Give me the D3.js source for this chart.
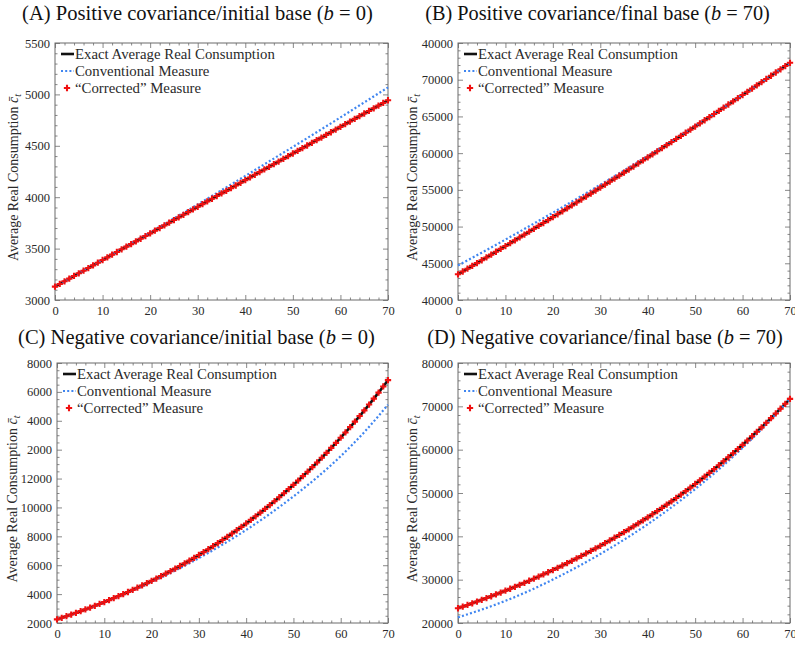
<!DOCTYPE html>
<html>
<head>
<meta charset="utf-8">
<script src="https://cdn.jsdelivr.net/npm/d3@7"></script>
<style>
  body { margin: 0; background: #fff; }
  svg { display: block; }
</style>
</head>
<body>
<svg id="chart" width="795" height="647"></svg>
<script>
// ---- data ----
const years = d3.range(0, 71);          // t = 0..70, one marker per year
const convYears = d3.range(0, 71, 5);   // conventional measure sampled every 5 years

// (A) positive covariance / initial base
const exactA = [3130,3156,3182,3208,3234,3260,3285,3311,3337,3363,3389,3415,3441,3467,3493,3519,3544,3570,3596,3622,
  3648,3674,3700,3726,3752,3778,3803,3829,3855,3881,3907,3933,3959,3985,4011,4037,4062,4088,4114,4140,
  4166,4192,4218,4244,4270,4296,4321,4347,4373,4399,4425,4451,4477,4503,4529,4555,4580,4606,4632,4658,
  4684,4710,4736,4762,4788,4814,4839,4865,4891,4917,4943];
const convA = [3130,3261,3392,3525,3658,3794,3930,4068,4207,4348,4489,4632,4776,4922,5068];

// (B) positive covariance / final base
const exactB = [43500,43880,44262,44644,45027,45411,45796,46182,46569,46956,47345,47734,48125,48516,48908,49301,49695,50090,50486,50882,
  51280,51678,52078,52478,52879,53281,53684,54088,54493,54898,55305,55712,56121,56530,56940,57351,57763,58176,58590,59004,
  59420,59836,60254,60672,61091,61511,61932,62354,62777,63200,63625,64050,64477,64904,65332,65761,66191,66622,67054,67486,
  67920,68354,68790,69226,69663,70101,70540,70980,71421,71862,72305];
const convB = [44700,46446,48227,50042,51892,53777,55697,57651,59640,61664,63723,65816,67944,70107,72305];

// (C) negative covariance / initial base
const exactC = [2250,2360,2471,2585,2702,2820,2941,3065,3191,3319,3450,3584,3720,3860,4002,4147,4294,4445,4599,4756,
  4916,5079,5246,5416,5590,5767,5947,6131,6319,6511,6707,6906,7110,7317,7529,7745,7966,8191,8420,8655,
  8893,9137,9386,9639,9898,10162,10432,10706,10987,11273,11564,11862,12166,12476,12792,13114,13443,13779,14121,14471,
  14827,15190,15561,15940,16326,16720,17122,17531,17950,18376,18812];
const convC = [2250,2810,3425,4097,4836,5627,6487,7425,8443,9552,10764,12084,13547,15220,17112];

// (D) negative covariance / final base
const exactD = [23400,23777,24161,24551,24947,25349,25758,26173,26595,27024,27460,27903,28353,28810,29275,29747,30227,30715,31210,31713,
  32225,32745,33273,33809,34355,34909,35472,36044,36625,37216,37816,38426,39046,39676,40315,40966,41626,42298,42980,43673,
  44378,45093,45821,46560,47311,48074,48849,49637,50438,51251,52078,52918,53771,54638,55520,56415,57325,58250,59189,60144,
  61114,62099,63101,64119,65153,66204,67271,68356,69459,70579,71718];
const convD = [21300,23099,25110,27427,30025,32859,35916,39216,42798,46684,50898,55465,60434,65844,71718];

// tick values and the labels exactly as printed in the figure
const xTicks = [0, 10, 20, 30, 40, 50, 60, 70];
const yTicksA = [3000, 3500, 4000, 4500, 5000, 5500];
const yLabelsA = ["3000", "3500", "4000", "4500", "5000", "5500"];
const yTicksB = [40000, 45000, 50000, 55000, 60000, 65000, 70000, 75000];
const yLabelsB = ["40000", "45000", "50000", "55000", "60000", "65000", "70000", "40000"];
const yTicksC = [2000, 4000, 6000, 8000, 10000, 12000, 14000, 16000, 18000, 20000];
const yLabelsC = ["2000", "4000", "6000", "8000", "10000", "12000", "2000", "4000", "6000", "8000"];
const yTicksD = [20000, 30000, 40000, 50000, 60000, 70000, 80000];
const yLabelsD = ["20000", "30000", "40000", "50000", "60000", "70000", "80000"];

const legendLabels = ["Exact Average Real Consumption", "Conventional Measure", "\u201CCorrected\u201D Measure"];

// ---- styling ----
const serif = "'Liberation Serif', 'Times New Roman', serif";
const axisColor = "#6a6a6a";
const textColor = "#2a2a2a";
const exactColor = "#111";
const convColor = "#3f85f0";
const corrColor = "#f01010";

const panels = [
  { tag: "A", head: "Positive covariance/initial base (", bval: "0", left: 55, right: 388, top: 43, bottom: 300,
    yDomain: [3000, 5500], yTicks: yTicksA, yLabels: yLabelsA, yMinor: 100,
    exact: exactA, conv: convA, titleX: 197.5, titleY: 20, titleW: 351, labelX: 13 },
  { tag: "B", head: "Positive covariance/final base (", bval: "70", left: 458, right: 790, top: 43, bottom: 300,
    yDomain: [40000, 75000], yTicks: yTicksB, yLabels: yLabelsB, yMinor: 1000,
    exact: exactB, conv: convB, titleX: 597.5, titleY: 20, titleW: 345, labelX: 412 },
  { tag: "C", head: "Negative covariance/initial base (", bval: "0", left: 57, right: 388, top: 363, bottom: 623,
    yDomain: [2000, 20000], yTicks: yTicksC, yLabels: yLabelsC, yMinor: 500,
    exact: exactC, conv: convC, titleX: 196.5, titleY: 344, titleW: 357, labelX: 12 },
  { tag: "D", head: "Negative covariance/final base (", bval: "70", left: 458, right: 790, top: 363, bottom: 623,
    yDomain: [20000, 80000], yTicks: yTicksD, yLabels: yLabelsD, yMinor: 2000,
    exact: exactD, conv: convD, titleX: 605, titleY: 344, titleW: 356, labelX: 412 }
];

const svg = d3.select("#chart").attr("font-family", serif);
const marker = d3.symbol().type(d3.symbolCross).size(22);

function styleAxis(a) {
  a.attr("font-family", serif).attr("font-size", 12.5);
  a.select(".domain").remove();
  a.selectAll("line").attr("stroke", axisColor).attr("stroke-width", 0.8);
  a.selectAll("text").attr("fill", textColor);
}

panels.forEach(p => {
  const x = d3.scaleLinear().domain([0, 70]).range([p.left, p.right]);
  const y = d3.scaleLinear().domain(p.yDomain).range([p.bottom, p.top]);
  const g = svg.append("g");

  const xMinor = d3.range(0, 71, 2).filter(v => v % 10 !== 0);
  const yMinor = d3.range(p.yDomain[0], p.yDomain[1] + 1, p.yMinor).filter(v => !p.yTicks.includes(v));
  const labelOf = d3.scaleOrdinal().domain(p.yTicks).range(p.yLabels);

  // bottom axis with labels
  styleAxis(g.append("g").attr("transform", `translate(0,${p.bottom})`)
    .call(d3.axisBottom(x).tickValues(xTicks).tickSizeInner(-5).tickSizeOuter(0).tickPadding(6).tickFormat(d3.format("d"))));
  styleAxis(g.append("g").attr("transform", `translate(0,${p.bottom})`)
    .call(d3.axisBottom(x).tickValues(xMinor).tickSizeInner(-2.5).tickSizeOuter(0).tickFormat("")));
  // top axis, ticks only
  styleAxis(g.append("g").attr("transform", `translate(0,${p.top})`)
    .call(d3.axisTop(x).tickValues(xTicks).tickSizeInner(-5).tickSizeOuter(0).tickFormat("")));
  styleAxis(g.append("g").attr("transform", `translate(0,${p.top})`)
    .call(d3.axisTop(x).tickValues(xMinor).tickSizeInner(-2.5).tickSizeOuter(0).tickFormat("")));
  // left axis with labels
  styleAxis(g.append("g").attr("transform", `translate(${p.left},0)`)
    .call(d3.axisLeft(y).tickValues(p.yTicks).tickSizeInner(-5).tickSizeOuter(0).tickPadding(5).tickFormat(d => labelOf(d))));
  styleAxis(g.append("g").attr("transform", `translate(${p.left},0)`)
    .call(d3.axisLeft(y).tickValues(yMinor).tickSizeInner(-2.5).tickSizeOuter(0).tickFormat("")));
  // right axis, ticks only
  styleAxis(g.append("g").attr("transform", `translate(${p.right},0)`)
    .call(d3.axisRight(y).tickValues(p.yTicks).tickSizeInner(-5).tickSizeOuter(0).tickFormat("")));
  styleAxis(g.append("g").attr("transform", `translate(${p.right},0)`)
    .call(d3.axisRight(y).tickValues(yMinor).tickSizeInner(-2.5).tickSizeOuter(0).tickFormat("")));

  // frame
  g.append("rect")
    .attr("x", p.left).attr("y", p.top)
    .attr("width", p.right - p.left).attr("height", p.bottom - p.top)
    .attr("fill", "none").attr("stroke", axisColor).attr("stroke-width", 1);

  // series
  const exactPts = years.map((t, i) => [t, p.exact[i]]);
  const convPts = convYears.map((t, i) => [t, p.conv[i]]);
  const line = d3.line().x(d => x(d[0])).y(d => y(d[1])).curve(d3.curveMonotoneX);

  g.append("path").datum(exactPts)
    .attr("d", line).attr("fill", "none")
    .attr("stroke", exactColor).attr("stroke-width", 2.6);

  g.append("path").datum(convPts)
    .attr("d", line).attr("fill", "none")
    .attr("stroke", convColor).attr("stroke-width", 2.2)
    .attr("stroke-dasharray", "2,2.2");

  g.selectAll("path.corr").data(exactPts).enter()
    .append("path").attr("class", "corr")
    .attr("d", marker)
    .attr("transform", d => `translate(${x(d[0])},${y(d[1])})`)
    .attr("fill", corrColor);

  // legend
  const lx = p.left + 6, ly = p.top + 11;
  g.append("line").attr("x1", lx).attr("x2", lx + 13).attr("y1", ly).attr("y2", ly)
    .attr("stroke", exactColor).attr("stroke-width", 2.6);
  g.append("line").attr("x1", lx).attr("x2", lx + 13).attr("y1", ly + 17).attr("y2", ly + 17)
    .attr("stroke", convColor).attr("stroke-width", 2.2).attr("stroke-dasharray", "2,2.2");
  g.append("path").attr("d", marker).attr("transform", `translate(${lx + 6},${ly + 34})`).attr("fill", corrColor);
  legendLabels.forEach((s, i) => {
    g.append("text")
      .attr("x", lx + 14).attr("y", ly + i * 17)
      .attr("dy", "0.35em")
      .attr("fill", textColor)
      .attr("font-family", serif)
      .attr("font-size", 14.8)
      .text(s);
  });

  // title, sized so that its width matches the printed one
  const t = g.append("text")
    .attr("x", p.titleX).attr("y", p.titleY)
    .attr("text-anchor", "middle")
    .attr("fill", "#111")
    .attr("font-family", serif)
    .attr("font-size", 20);
  t.append("tspan").text(`(${p.tag}) ${p.head}`);
  t.append("tspan").attr("font-style", "italic").text("b");
  t.append("tspan").text(` = ${p.bval})`);
  const w = t.node().getComputedTextLength();
  if (w > 0) t.attr("font-size", 20 * p.titleW / w);

  // y axis label
  const yl = g.append("text")
    .attr("transform", `translate(${p.labelX},${(p.top + p.bottom) / 2 + 6}) rotate(-90)`)
    .attr("text-anchor", "middle")
    .attr("dy", "0.35em")
    .attr("fill", textColor)
    .attr("font-family", serif)
    .attr("font-size", 14);
  yl.append("tspan").text("Average Real Consumption ");
  yl.append("tspan").attr("font-style", "italic").text("c\u0304");
  yl.append("tspan").attr("dy", 3).attr("font-size", 10).attr("font-style", "italic").text("t");
});
</script>
</body>
</html>
